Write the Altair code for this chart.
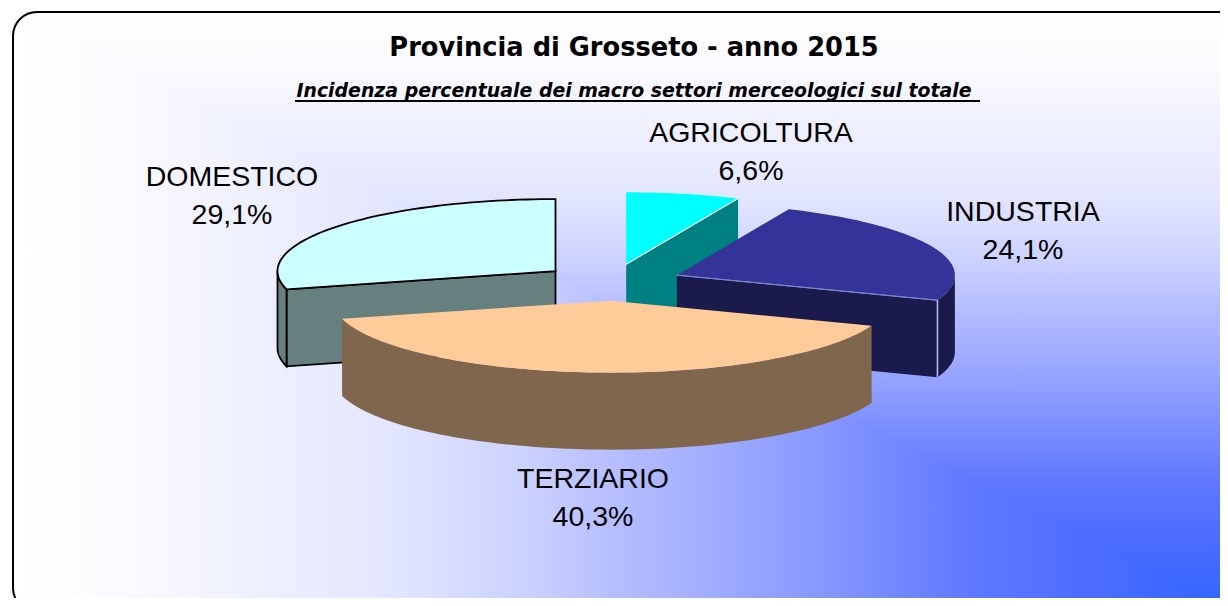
import math
import altair as alt
import pandas as pd

# ---- data ----
categories = ["AGRICOLTURA", "INDUSTRIA", "TERZIARIO", "DOMESTICO"]
shares = [6.6, 24.1, 40.3, 29.1]
top_colors = ["#00ffff", "#333399", "#ffcc99", "#ccffff"]
side_colors = ["#008080", "#1a1a4d", "#80664d", "#668080"]
edge_colors = ["none", "none", "none", "#000000"]
cut_highlights = ["#ffffff", "#7f86d0", "none", "none"]
corner_highlights = ["none", "#b8c0f4", "none", "none"]
draw_order = ["AGRICOLTURA", "DOMESTICO", "INDUSTRIA", "TERZIARIO"]
title_text = "Provincia di Grosseto - anno 2015"
subtitle_text = "Incidenza percentuale dei macro settori merceologici sul totale "
gradient_offsets = [0.0, 0.08, 0.313, 0.43, 0.48, 0.58, 0.68, 0.78, 0.88, 0.98]
gradient_colors = ["#ffffff", "#fbfbff", "#e2e5ff", "#c8ceff", "#b8c0ff",
                   "#9eaaff", "#7f92ff", "#6078ff", "#4c6cff", "#3366ff"]

# ---- layout of the pseudo-3D pie (page pixels) ----
CX, CY, RX, RY, DEPTH, EXPLODE = 611.6, 282.3, 278, 72, 77, 0.255
slice_nudge = {"TERZIARIO": 3}
label_anchor = {"AGRICOLTURA": (751, 142), "INDUSTRIA": (1023, 221),
                "TERZIARIO": (593, 488), "DOMESTICO": (232, 186)}
LINE_GAP = 38
OFF = 8
BOX = (13, 12, 1242, 612)


def rim(cx, cy, deg, drop=0):
    t = math.radians(deg)
    return [cx + RX * math.sin(t), cy - RY * math.cos(t) + drop]


def arc(cx, cy, a, b, drop=0):
    n = max(2, int(abs(b - a) / 1.5))
    return [rim(cx, cy, a + (b - a) * i / n, drop) for i in range(n + 1)]


def feature(ring, fill, stroke, width):
    return {"type": "Feature",
            "properties": {"fill": fill, "stroke": stroke, "width": width},
            "geometry": {"type": "Polygon", "coordinates": [ring + [ring[0]]]}}


def geo_data(items):
    return alt.InlineData(values={"type": "FeatureCollection", "features": items},
                          format=alt.DataFormat(type="json", property="features"))


spans, acc = {}, 0.0
total = sum(shares)
for c, s in zip(categories, shares):
    spans[c] = (acc, acc + s / total * 360)
    acc = spans[c][1]

features = []
for c in draw_order:
    i = categories.index(c)
    a, b = spans[c]
    mid = math.radians((a + b) / 2)
    x0 = CX + EXPLODE * RX * math.sin(mid) + slice_nudge.get(c, 0)
    y0 = CY - EXPLODE * RY * math.cos(mid)
    st, w = edge_colors[i], 1.8 if edge_colors[i] != "none" else 0
    apex = [x0, y0]
    apex_low = [x0, y0 + DEPTH]
    for edge in (a, b):
        s = math.sin(math.radians(edge))
        if (edge == a and s < -1e-6) or (edge == b and s > 1e-6):
            features.append(feature([apex, rim(x0, y0, edge), rim(x0, y0, edge, DEPTH), apex_low],
                                    side_colors[i], st, w))
    lo, hi = max(a, 90), min(b, 270)
    if hi > lo:
        features.append(feature(arc(x0, y0, lo, hi) + arc(x0, y0, hi, lo, DEPTH),
                                side_colors[i], st, w))
    features.append(feature([apex] + arc(x0, y0, a, b), top_colors[i], st, w))
    if cut_highlights[i] != "none":
        features.append(feature([apex, rim(x0, y0, b)], "none", cut_highlights[i], 1))
    if corner_highlights[i] != "none":
        features.append(feature([rim(x0, y0, b), rim(x0, y0, b, DEPTH)], "none", corner_highlights[i], 1.5))

PROJ = dict(type="identity", scale=1, translate=[-OFF, -OFF])

pies = alt.Chart(geo_data(features)).mark_geoshape().encode(
    fill=alt.Fill("properties.fill:N", scale=None),
    stroke=alt.Stroke("properties.stroke:N", scale=None),
    strokeWidth=alt.StrokeWidth("properties.width:Q", scale=None),
).project(**PROJ)

stops = [alt.GradientStop(offset=o, color=c) for o, c in zip(gradient_offsets, gradient_colors)]
one_row = pd.DataFrame({"k": [0]})


def box_rect(**kw):
    return alt.Chart(one_row).mark_rect(cornerRadius=24, **kw).encode(
        x=alt.value(BOX[0] - OFF), x2=alt.value(BOX[2] - OFF),
        y=alt.value(BOX[1] - OFF), y2=alt.value(BOX[3] - OFF))


# The reference's "from corner" fill: vertical ramp above the box diagonal, horizontal ramp below it.
ramp_down = box_rect(fill=alt.LinearGradient(gradient="linear", x1=0, y1=0, x2=0, y2=1, stops=stops))
lower_tri = [[BOX[0], BOX[1]], [BOX[2], BOX[3]], [BOX[0], BOX[3]]]
ramp_right = alt.Chart(geo_data([feature(lower_tri, "none", "none", 0)])).mark_geoshape(
    fill=alt.LinearGradient(gradient="linear", x1=0, y1=0, x2=1, y2=0, stops=stops), strokeWidth=0
).project(**PROJ)
border = box_rect(fill="transparent", stroke="#000000", strokeWidth=2)

rows = []
for c, s in zip(categories, shares):
    lx, ly = label_anchor[c]
    rows.append({"t": c, "px": lx - OFF, "py": ly - OFF})
    rows.append({"t": f"{s:.1f}".replace(".", ",") + "%", "px": lx - OFF, "py": ly + LINE_GAP - OFF})

labels = alt.Chart(pd.DataFrame(rows)).mark_text(
    font="Liberation Sans", fontSize=28.5, align="center", baseline="alphabetic", color="#000000"
).encode(x=alt.X("px:Q", scale=None, axis=None), y=alt.Y("py:Q", scale=None, axis=None), text="t:N")

title = alt.Chart(pd.DataFrame({"t": [title_text]})).mark_text(
    font="DejaVu Sans", fontWeight="bold", fontSize=25.7, align="center", baseline="alphabetic", color="#000000"
).encode(x=alt.value(634 - OFF), y=alt.value(56 - OFF), text="t:N")

subtitle = alt.Chart(pd.DataFrame({"t": [subtitle_text]})).mark_text(
    font="DejaVu Sans", fontWeight="bold", fontStyle="italic", fontSize=18.9, align="center",
    baseline="alphabetic", color="#000000"
).encode(x=alt.value(634 - OFF), y=alt.value(97 - OFF), text="t:N")

underline = alt.Chart(one_row).mark_rule(color="#000000", strokeWidth=2).encode(
    x=alt.value(295 - OFF), x2=alt.value(980 - OFF), y=alt.value(101 - OFF))

chart = alt.layer(ramp_down, ramp_right, border, pies, labels, title, subtitle, underline).properties(
    width=1212, height=590, padding=0, autosize=alt.AutoSizeParams(type="none"),
).configure_view(stroke=None)

chart.save("out.html", embed_options={"renderer": "svg", "actions": False})
